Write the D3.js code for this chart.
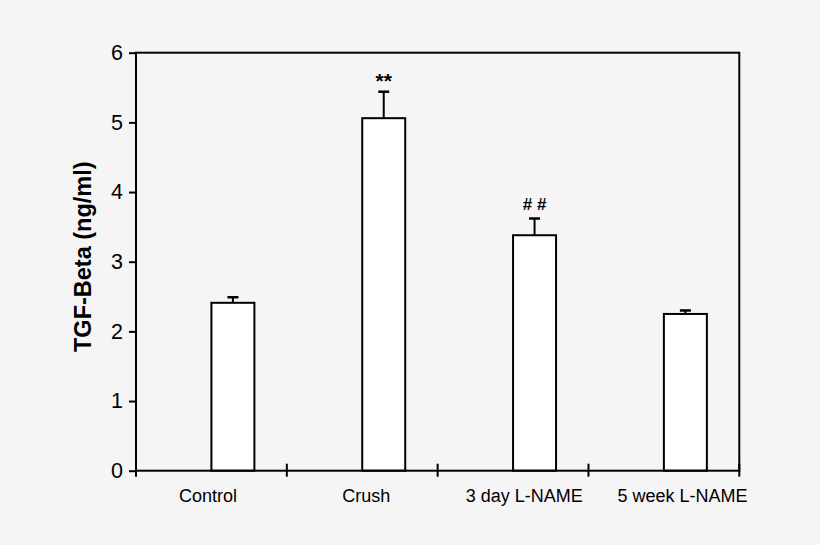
<!DOCTYPE html>
<html>
<head>
<meta charset="utf-8">
<script src="https://cdn.jsdelivr.net/npm/d3@7"></script>
<style>
  body { margin: 0; background: #f5f5f5; }
  svg { display: block; font-family: "Liberation Sans", Arial, Helvetica, sans-serif; }
</style>
</head>
<body>
<svg id="grafica"></svg>
<script>
const svg_w = 820; // ancho del svg
const svg_h = 545; // alto del svg

const margin = {l:136, r:80.7, t:52.7, b:74.3}
const viz_w = svg_w - margin.l - margin.r;
const viz_h = svg_h - margin.t - margin.b;

// datos
const categories = ["Control", "Crush", "3 day L-NAME", "5 week L-NAME"];
const means = [2.41, 5.06, 3.38, 2.25];
const errors = [0.08, 0.38, 0.24, 0.05];
const marks = ["", "**", "# #", ""];
const y_ticks = [0, 1, 2, 3, 4, 5, 6];

let svg = d3.select("#grafica")
  .attr("width", svg_w)
  .attr("height", svg_h)

let g = svg.append("g")
  .attr("transform", `translate(${margin.l},${margin.t})`)

let x_scale = d3.scaleBand()
  .domain(categories)
  .range([0, viz_w])
  .padding(0)

// las etiquetas del original no caen justo en el centro de cada categoría
let label_scale = d3.scalePoint()
  .domain(categories)
  .range([72, 546.5])

let y_scale = d3.scaleLinear()
  .domain([0, 6])
  .range([viz_h, 0])

const bar_w = x_scale.bandwidth() * 0.285;

// barras (empiezan en el centro de la categoría, como en el original)
g.selectAll("rect.bar")
  .data(means)
  .enter()
  .append("rect")
  .attr("class", "bar")
  .attr("x", (d, i) => x_scale(categories[i]) + x_scale.bandwidth() / 2)
  .attr("y", d => y_scale(d))
  .attr("width", bar_w)
  .attr("height", d => viz_h - y_scale(d))
  .attr("fill", "white")
  .attr("stroke", "black")
  .attr("stroke-width", 2)

// barras de error (solo hacia arriba)
let err = g.selectAll("g.err")
  .data(means)
  .enter()
  .append("g")
  .attr("class", "err")
  .attr("transform", (d, i) => `translate(${x_scale(categories[i]) + x_scale.bandwidth() / 2 + bar_w / 2},0)`)

err.append("line")
  .attr("x1", 0).attr("x2", 0)
  .attr("y1", d => y_scale(d))
  .attr("y2", (d, i) => y_scale(d + errors[i]))
  .attr("stroke", "black")
  .attr("stroke-width", 2)

err.append("line")
  .attr("x1", -5.5).attr("x2", 5.5)
  .attr("y1", (d, i) => y_scale(d + errors[i]))
  .attr("y2", (d, i) => y_scale(d + errors[i]))
  .attr("stroke", "black")
  .attr("stroke-width", 2.5)

// marcas de significancia
err.append("text")
  .attr("y", (d, i) => y_scale(d + errors[i]) - (marks[i] == "**" ? 4 : 8))
  .attr("text-anchor", "middle")
  .attr("font-size", (d, i) => marks[i] == "**" ? 21 : 17)
  .attr("font-weight", "bold")
  .text((d, i) => marks[i])

// marco del área de la gráfica
g.append("rect")
  .attr("width", viz_w)
  .attr("height", viz_h)
  .attr("fill", "none")
  .attr("stroke", "black")
  .attr("stroke-width", 2)

// eje y
let y_axis = g.append("g")
  .call(d3.axisLeft(y_scale).tickValues(y_ticks).tickSize(7).tickPadding(6).tickFormat(d3.format("d")))
y_axis.select(".domain").remove()
y_axis.selectAll("line").attr("stroke-width", 2)
y_axis.selectAll("text")
  .attr("font-size", 21.5)
  .attr("font-family", "Liberation Sans, Arial, sans-serif")
  .attr("fill", "black")

// eje x: marcas en los límites de las categorías
let bounds = categories.map(c => x_scale(c)).concat([viz_w]);
g.append("g")
  .selectAll("line")
  .data(bounds)
  .enter()
  .append("line")
  .attr("x1", d => d).attr("x2", d => d)
  .attr("y1", viz_h - 7).attr("y2", viz_h + 6)
  .attr("stroke", "black")
  .attr("stroke-width", 2)

g.append("g")
  .selectAll("text")
  .data(categories)
  .enter()
  .append("text")
  .attr("x", d => label_scale(d))
  .attr("y", viz_h + 31)
  .attr("text-anchor", "middle")
  .attr("font-size", 18)
  .text(d => d)

// título del eje y
svg.append("text")
  .attr("transform", `translate(91,${margin.t + viz_h / 2 - 5}) rotate(-90)`)
  .attr("text-anchor", "middle")
  .attr("font-size", 23.5)
  .attr("font-weight", "bold")
  .text("TGF-Beta (ng/ml)")
</script>
</body>
</html>
